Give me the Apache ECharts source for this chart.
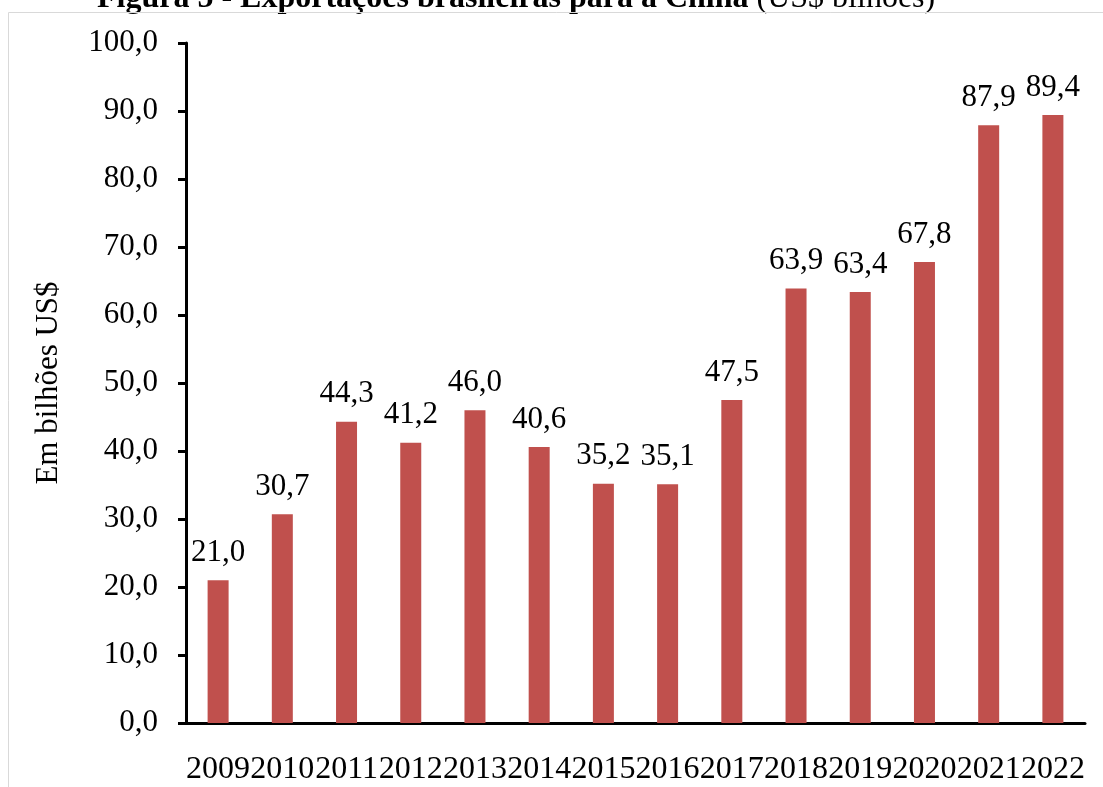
<!DOCTYPE html>
<html>
<head>
<meta charset="utf-8">
<script src="https://cdn.jsdelivr.net/npm/echarts@6/dist/echarts.min.js"></script>
<style>
  html, body { margin: 0; padding: 0; background: #fff; }
  #chart { width: 1103px; height: 787px; }
</style>
</head>
<body>
<div id="chart"></div>
<script>
// dados
var anos = ['2009', '2010', '2011', '2012', '2013', '2014', '2015', '2016', '2017', '2018', '2019', '2020', '2021', '2022'];
var exportacoes = [21.0, 30.7, 44.3, 41.2, 46.0, 40.6, 35.2, 35.1, 47.5, 63.9, 63.4, 67.8, 87.9, 89.4];
var titulo = 'Figura 5 - Exportações brasileiras para a China';
var unidade = '(US$ bilhões)';
var nomeEixo = 'Em bilhões US$';

var fonte = '"Liberation Serif", "Times New Roman", serif';
function virgula(v) { return v.toFixed(1).replace('.', ','); }

var myChart = echarts.init(document.getElementById('chart'));
var option = {
  animation: false,
  title: {
    left: 92,
    top: -22,
    text: '{b|' + titulo + '}{n| ' + unidade + '}',
    textStyle: {
      rich: {
        b: { fontFamily: fonte, fontSize: 32, fontWeight: 'bold', color: '#000' },
        n: { fontFamily: fonte, fontSize: 32, fontWeight: 'normal', color: '#000' }
      }
    }
  },
  graphic: [{
    type: 'rect',
    z: 100,
    shape: { x: 8.5, y: 12.5, width: 1200, height: 900 },
    style: { fill: 'none', stroke: '#d9d9d9', lineWidth: 1 }
  }],
  grid: { left: 186, top: 43, right: 18, bottom: 64 },
  xAxis: {
    type: 'category',
    data: anos,
    axisTick: { show: false },
    axisLine: { lineStyle: { color: '#000', width: 3 } },
    axisLabel: { color: '#000', fontFamily: fonte, fontSize: 32, margin: 31, interval: 0 }
  },
  yAxis: {
    type: 'value',
    min: 0,
    max: 100,
    interval: 10,
    name: nomeEixo,
    nameLocation: 'middle',
    nameGap: 122,
    nameTextStyle: { color: '#000', fontFamily: fonte, fontSize: 31 },
    splitLine: { show: false },
    axisLine: { show: true, lineStyle: { color: '#000', width: 3 } },
    axisTick: { show: true, length: 8, lineStyle: { color: '#000', width: 3 } },
    axisLabel: { color: '#000', fontFamily: fonte, fontSize: 31, margin: 28, formatter: virgula }
  },
  series: [{
    type: 'bar',
    barWidth: 21,
    itemStyle: { color: '#C0504D' },
    label: {
      show: true,
      position: 'top',
      distance: 12,
      color: '#000',
      fontFamily: fonte,
      fontSize: 31,
      formatter: function (p) { return virgula(p.value); }
    },
    data: exportacoes
  }]
};
myChart.setOption(option);
</script>
</body>
</html>
